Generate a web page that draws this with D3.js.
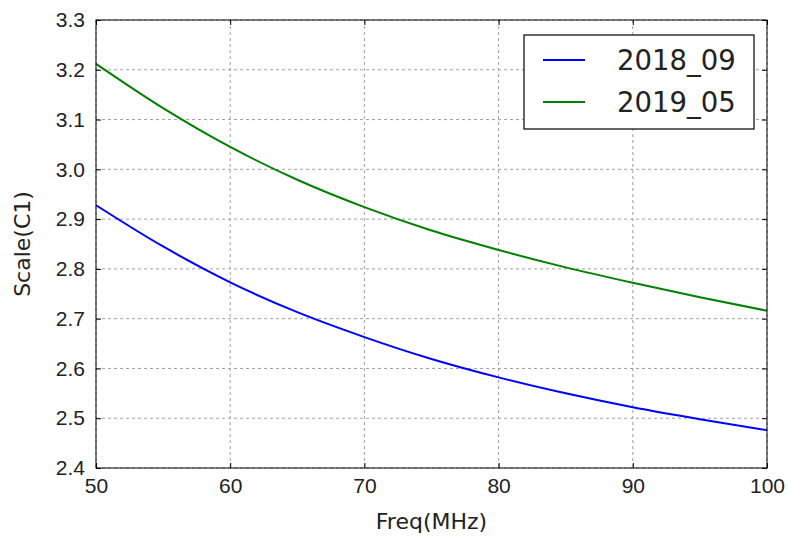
<!DOCTYPE html>
<html>
<head>
<meta charset="utf-8">
<script src="https://cdn.jsdelivr.net/npm/d3@7"></script>
<style>
  html, body { margin: 0; padding: 0; background: #fff; }
  svg { display: block; font-family: "DejaVu Sans", sans-serif; }
</style>
</head>
<body>
<svg id="chart" width="788" height="538"></svg>
<script>
// data
const freqs = [50, 55, 60, 65, 70, 75, 80, 85, 90, 95, 100]
const scale2018_09 = [2.928, 2.845, 2.773, 2.713, 2.663, 2.619, 2.582, 2.550, 2.522, 2.498, 2.476]
const scale2019_05 = [3.212, 3.123, 3.045, 2.979, 2.924, 2.877, 2.838, 2.803, 2.772, 2.743, 2.716]
const seriesNames = ["2018_09", "2019_05"]
const seriesColors = ["#0000ff", "#008000"]
const xTicks = [50, 60, 70, 80, 90, 100]
const yTicks = [2.4, 2.5, 2.6, 2.7, 2.8, 2.9, 3.0, 3.1, 3.2, 3.3]

const width = 788
const height = 538
const margin = { top: 20, right: 21, bottom: 70, left: 96 }

const svg = d3.select("#chart")

const x = d3.scaleLinear()
  .domain([50, 100])
  .range([margin.left, width - margin.right])

const y = d3.scaleLinear()
  .domain([2.4, 3.3])
  .range([height - margin.bottom, margin.top])

// grid
const grid = svg.append("g")
  .attr("stroke", "#a0a0a0")
  .attr("stroke-width", 1)
  .attr("stroke-dasharray", "3,3")

grid.selectAll("line.gx")
  .data(xTicks)
  .join("line")
  .attr("class", "gx")
  .attr("x1", d => x(d)).attr("x2", d => x(d))
  .attr("y1", margin.top).attr("y2", height - margin.bottom)

grid.selectAll("line.gy")
  .data(yTicks)
  .join("line")
  .attr("class", "gy")
  .attr("x1", margin.left).attr("x2", width - margin.right)
  .attr("y1", d => y(d)).attr("y2", d => y(d))

// lines
const series = [scale2018_09, scale2019_05]
const line = d3.line()
  .x((d, i) => x(freqs[i]))
  .y(d => y(d))
  .curve(d3.curveMonotoneX)

svg.append("g")
  .selectAll("path")
  .data(series)
  .join("path")
  .attr("fill", "none")
  .attr("stroke", (d, i) => seriesColors[i])
  .attr("stroke-width", 2)
  .attr("d", line)

// axes, ticks pointing inward on all sides
function styleAxis(g) {
  g.select(".domain").remove()
  g.selectAll(".tick line").attr("stroke", "#000")
  g.selectAll(".tick text")
    .attr("fill", "#222")
    .style("font-size", "21px")
}

svg.append("g")
  .attr("transform", `translate(0,${height - margin.bottom})`)
  .call(d3.axisBottom(x).tickValues(xTicks).tickSize(-5).tickPadding(10).tickFormat(d3.format("d")))
  .call(styleAxis)

svg.append("g")
  .attr("transform", `translate(${margin.left},0)`)
  .call(d3.axisLeft(y).tickValues(yTicks).tickSize(-5).tickPadding(11).tickFormat(d3.format(".1f")))
  .call(styleAxis)

svg.append("g")
  .attr("transform", `translate(0,${margin.top})`)
  .call(d3.axisTop(x).tickValues(xTicks).tickSize(-5).tickFormat(""))
  .call(styleAxis)

svg.append("g")
  .attr("transform", `translate(${width - margin.right},0)`)
  .call(d3.axisRight(y).tickValues(yTicks).tickSize(-5).tickFormat(""))
  .call(styleAxis)

// frame
svg.append("rect")
  .attr("x", margin.left)
  .attr("y", margin.top)
  .attr("width", width - margin.left - margin.right)
  .attr("height", height - margin.top - margin.bottom)
  .attr("fill", "none")
  .attr("stroke", "#000")
  .attr("stroke-width", 1)

// axis labels
svg.append("text")
  .attr("x", (margin.left + width - margin.right) / 2)
  .attr("y", 529)
  .attr("text-anchor", "middle")
  .attr("fill", "#222")
  .style("font-size", "22px")
  .text("Freq(MHz)")

svg.append("text")
  .attr("transform", `translate(30,${(margin.top + height - margin.bottom) / 2}) rotate(-90)`)
  .attr("text-anchor", "middle")
  .attr("fill", "#222")
  .style("font-size", "22px")
  .text("Scale(C1)")

// legend
const legend = svg.append("g").attr("transform", "translate(524,35)")

legend.append("rect")
  .attr("width", 230)
  .attr("height", 94)
  .attr("fill", "#fff")
  .attr("stroke", "#000")
  .attr("stroke-width", 1.2)

const items = legend.selectAll("g.item")
  .data(seriesNames)
  .join("g")
  .attr("class", "item")
  .attr("transform", (d, i) => `translate(0,${25 + i * 42})`)

items.append("line")
  .attr("x1", 19).attr("x2", 61)
  .attr("stroke", (d, i) => seriesColors[i])
  .attr("stroke-width", 2)

items.append("text")
  .attr("x", 93)
  .attr("dy", "0.35em")
  .attr("fill", "#222")
  .style("font-size", "27.5px")
  .text(d => d)
</script>
</body>
</html>
